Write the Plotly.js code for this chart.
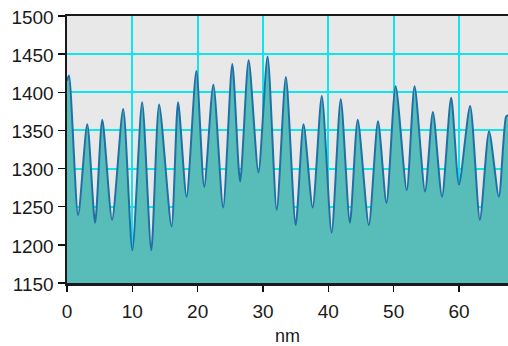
<!DOCTYPE html>
<html>
<head>
<meta charset="utf-8">
<script src="https://cdn.plot.ly/plotly-3.0.1.min.js"></script>
<style>
html,body{margin:0;padding:0;background:#ffffff;}
#chart{width:508px;height:346px;}
</style>
</head>
<body>
<div id="chart"></div>
<script>
// Profile position (nm) at each read peak / trough
const positionNm = [0, 0.3, 1.7, 3.1, 4.3, 5.4, 6.9, 8.6, 10.0, 11.5, 12.9, 14.1, 16.0, 17.0, 18.3, 19.8, 21.0, 22.4, 23.9, 25.3, 26.5, 27.8, 29.3, 30.7, 32.1, 33.5, 35.0, 36.2, 37.6, 39.0, 40.5, 41.9, 43.3, 44.5, 46.2, 47.6, 48.9, 50.3, 52.0, 53.2, 54.8, 56.0, 57.4, 58.8, 60.0, 61.7, 63.2, 64.6, 66.1, 67.2, 67.5];
// Height values
const height = [1415, 1422, 1239, 1358, 1229, 1364, 1233, 1378, 1193, 1387, 1193, 1384, 1224, 1387, 1263, 1428, 1276, 1410, 1249, 1437, 1283, 1442, 1295, 1447, 1246, 1420, 1226, 1358, 1249, 1395, 1216, 1391, 1229, 1364, 1226, 1362, 1255, 1408, 1272, 1408, 1270, 1374, 1263, 1393, 1279, 1382, 1233, 1349, 1263, 1368, 1370];
const xTickVals = [0, 10, 20, 30, 40, 50, 60];
const yTickVals = [1150, 1200, 1250, 1300, 1350, 1400, 1450, 1500];

const trace = {
  x: positionNm,
  y: height,
  type: 'scatter',
  mode: 'lines',
  fill: 'tozeroy',
  fillcolor: '#58bcb8',
  line: {color: '#1f70a6', width: 2, shape: 'spline', smoothing: 0.7},
  hoverinfo: 'x+y'
};

const layout = {
  width: 508,
  height: 346,
  margin: {l: 67, r: 0, t: 16, b: 63},
  paper_bgcolor: '#ffffff',
  plot_bgcolor: '#e8e8e8',
  showlegend: false,
  font: {family: 'Liberation Sans, Arial, sans-serif', size: 19, color: '#1a1a1a'},
  xaxis: {
    range: [0, 67.5],
    tickvals: xTickVals,
    ticktext: xTickVals.map(String),
    ticks: 'outside',
    ticklen: 6,
    tickwidth: 1.5,
    tickcolor: '#111111',
    ticklabelstandoff: 4,
    showline: true,
    linecolor: '#1a1a1a',
    linewidth: 2.5,
    mirror: true,
    showgrid: true,
    gridcolor: '#12e4ee',
    gridwidth: 2,
    zeroline: false,
    tickfont: {size: 19},
    title: {text: 'nm', font: {size: 18}, standoff: 12}
  },
  yaxis: {
    range: [1150, 1500],
    tickvals: yTickVals,
    ticktext: yTickVals.map(String),
    ticks: 'outside',
    ticklen: 7,
    tickwidth: 1.5,
    tickcolor: '#111111',
    ticklabelshift: 1,
    showline: true,
    linecolor: '#1a1a1a',
    linewidth: 2.5,
    showgrid: true,
    gridcolor: '#12e4ee',
    gridwidth: 2,
    zeroline: false,
    tickfont: {size: 19}
  }
};

Plotly.newPlot('chart', [trace], layout, {displayModeBar: false, staticPlot: true});
</script>
</body>
</html>
